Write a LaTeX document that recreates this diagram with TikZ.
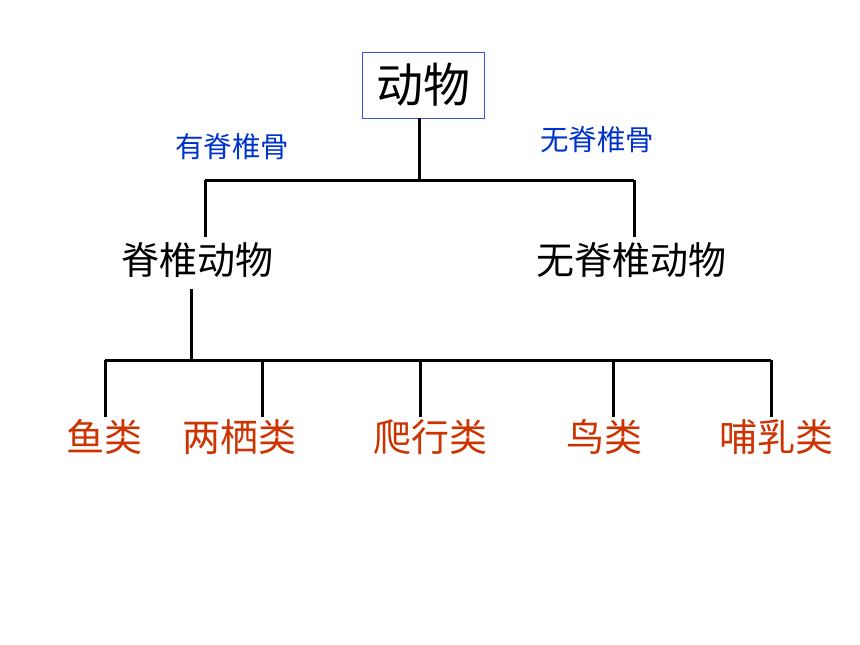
\documentclass[tikz,border=0pt]{standalone}
\usepackage{fontspec}
\newfontfamily\cjk{Noto Sans CJK SC}
\definecolor{lblblue}{RGB}{0,51,204}
\definecolor{grpred}{RGB}{204,51,0}
\definecolor{boxblue}{RGB}{51,85,221}
\begin{document}
\begin{tikzpicture}[x=1pt,y=-1pt,
  conn/.style={line width=3pt,black},
  big/.style={font=\cjk\fontsize{38}{40}\selectfont,inner sep=0pt},
  grp/.style={font=\cjk\fontsize{38}{40}\selectfont,text=grpred,inner sep=0pt},
  lbl/.style={font=\cjk\fontsize{28.5}{30}\selectfont,text=lblblue,inner sep=0pt}]
\useasboundingbox (0,0) rectangle (860,645);
\node[draw=boxblue,line width=1pt,minimum width=122pt,minimum height=66pt,inner sep=0pt,font=\cjk\fontsize{47}{50}\selectfont] (root) at (423,85) {动物};
\node[big] (vert) at (197,260) {脊椎动物};
\node[big] (invert) at (631,260) {无脊椎动物};
\node[lbl] (l1) at (232,147) {有脊椎骨};
\node[lbl] (l2) at (597,140) {无脊椎骨};
\node[grp] (fish) at (104,437) {鱼类};
\node[grp] (amph) at (239,437) {两栖类};
\node[grp] (rept) at (430,437) {爬行类};
\node[grp] (bird) at (604,437) {鸟类};
\node[grp] (mamm) at (776,437) {哺乳类};
\coordinate (t1) at (419,180);
\coordinate (tl) at (205,180);
\coordinate (tr) at (634,180);
\coordinate (b0) at (191,360);
\coordinate (bl) at (105,360);
\coordinate (br) at (771,360);
\draw[conn] (419,118) -- (t1);
\draw[conn] (tl) -- (tr);
\draw[conn] (tl) -- (205,237);
\draw[conn] (tr) -- (634,237);
\draw[conn] (191,289) -- (b0);
\draw[conn] (bl) -- (br);
\foreach \x in {105,262,420,613,771} \draw[conn] (\x,360) -- (\x,417);
\end{tikzpicture}
\end{document}
